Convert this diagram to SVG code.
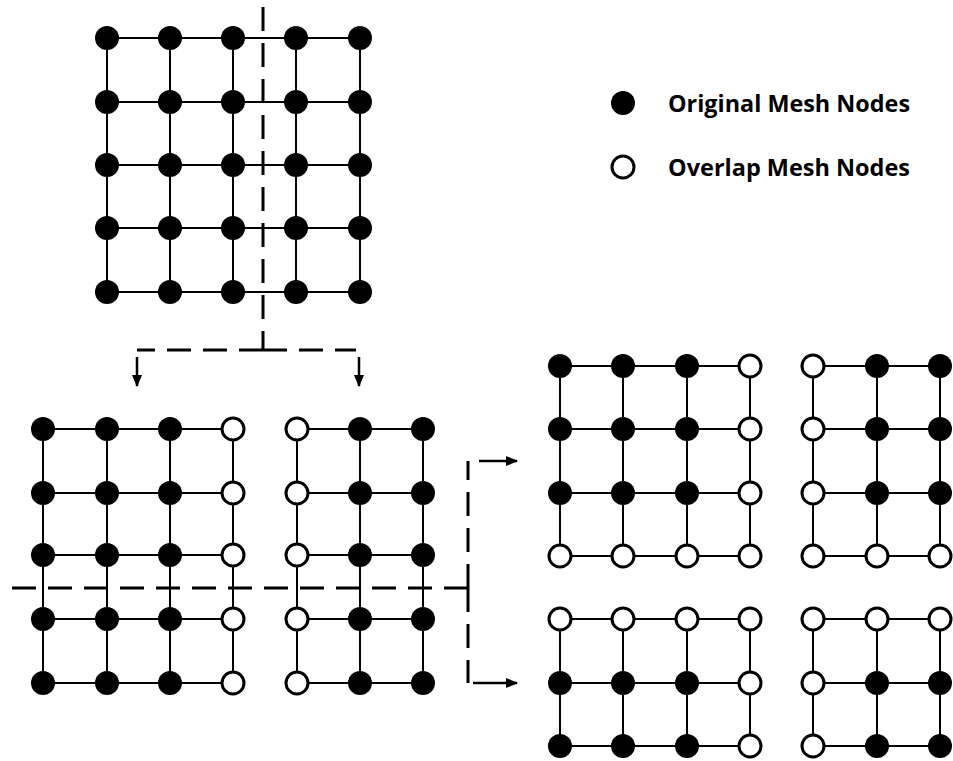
<svg xmlns="http://www.w3.org/2000/svg" width="953" height="761" viewBox="0 0 953 761">
  <defs>
    <style>
      .grid { stroke: #000; stroke-width: 2; fill: none; }
      .orig { fill: #000; stroke: none; }
      .ovl { fill: #fff; stroke: #000; stroke-width: 3; }
      .cut { stroke: #000; stroke-width: 3; fill: none; stroke-dasharray: 24 12; }
      .arrow { stroke: #000; stroke-width: 2.5; fill: none; marker-end: url(#head); }
      .label { font-family: "Open Sans", "Noto Sans", "Liberation Sans", sans-serif; font-weight: bold; font-size: 24px; fill: #000; }
    </style>
    <marker id="head" viewBox="0 0 12 10" refX="11" refY="5" markerWidth="12" markerHeight="10" markerUnits="userSpaceOnUse" orient="auto">
      <path d="M0,0 L12,5 L0,10 Z" fill="#000"/>
    </marker>
    <circle id="f" r="12" class="orig"/>
    <circle id="o" r="11" class="ovl"/>
  </defs>
  <rect width="953" height="761" fill="#fff"/>

  <!-- Full mesh (5 x 5) -->
  <g id="mesh-full">
    <path class="grid" d="M107,38H360M107,102H360M107,165H360M107,228H360M107,292H360M107,38V292M170,38V292M233,38V292M296,38V292M360,38V292"/>
    <g>
      <use href="#f" x="107" y="38"/><use href="#f" x="170" y="38"/><use href="#f" x="233" y="38"/><use href="#f" x="296" y="38"/><use href="#f" x="360" y="38"/>
      <use href="#f" x="107" y="102"/><use href="#f" x="170" y="102"/><use href="#f" x="233" y="102"/><use href="#f" x="296" y="102"/><use href="#f" x="360" y="102"/>
      <use href="#f" x="107" y="165"/><use href="#f" x="170" y="165"/><use href="#f" x="233" y="165"/><use href="#f" x="296" y="165"/><use href="#f" x="360" y="165"/>
      <use href="#f" x="107" y="228"/><use href="#f" x="170" y="228"/><use href="#f" x="233" y="228"/><use href="#f" x="296" y="228"/><use href="#f" x="360" y="228"/>
      <use href="#f" x="107" y="292"/><use href="#f" x="170" y="292"/><use href="#f" x="233" y="292"/><use href="#f" x="296" y="292"/><use href="#f" x="360" y="292"/>
    </g>
  </g>

  <!-- Left half after first split -->
  <g id="mesh-left">
    <path class="grid" d="M43,429H233M43,493H233M43,555H233M43,619H233M43,683H233M43,429V683M107,429V683M170,429V683M233,429V683"/>
    <use href="#f" x="43" y="429"/><use href="#f" x="107" y="429"/><use href="#f" x="170" y="429"/><use href="#o" x="233" y="429"/>
    <use href="#f" x="43" y="493"/><use href="#f" x="107" y="493"/><use href="#f" x="170" y="493"/><use href="#o" x="233" y="493"/>
    <use href="#f" x="43" y="555"/><use href="#f" x="107" y="555"/><use href="#f" x="170" y="555"/><use href="#o" x="233" y="555"/>
    <use href="#f" x="43" y="619"/><use href="#f" x="107" y="619"/><use href="#f" x="170" y="619"/><use href="#o" x="233" y="619"/>
    <use href="#f" x="43" y="683"/><use href="#f" x="107" y="683"/><use href="#f" x="170" y="683"/><use href="#o" x="233" y="683"/>
  </g>

  <!-- Right half after first split -->
  <g id="mesh-right">
    <path class="grid" d="M297,429H423M297,493H423M297,555H423M297,619H423M297,683H423M297,429V683M360,429V683M423,429V683"/>
    <use href="#o" x="297" y="429"/><use href="#f" x="360" y="429"/><use href="#f" x="423" y="429"/>
    <use href="#o" x="297" y="493"/><use href="#f" x="360" y="493"/><use href="#f" x="423" y="493"/>
    <use href="#o" x="297" y="555"/><use href="#f" x="360" y="555"/><use href="#f" x="423" y="555"/>
    <use href="#o" x="297" y="619"/><use href="#f" x="360" y="619"/><use href="#f" x="423" y="619"/>
    <use href="#o" x="297" y="683"/><use href="#f" x="360" y="683"/><use href="#f" x="423" y="683"/>
  </g>

  <!-- Quadrant: top-left -->
  <g id="quad-tl">
    <path class="grid" d="M560,366H750M560,429H750M560,493H750M560,556H750M560,366V556M623,366V556M687,366V556M750,366V556"/>
    <use href="#f" x="560" y="366"/><use href="#f" x="623" y="366"/><use href="#f" x="687" y="366"/><use href="#o" x="750" y="366"/>
    <use href="#f" x="560" y="429"/><use href="#f" x="623" y="429"/><use href="#f" x="687" y="429"/><use href="#o" x="750" y="429"/>
    <use href="#f" x="560" y="493"/><use href="#f" x="623" y="493"/><use href="#f" x="687" y="493"/><use href="#o" x="750" y="493"/>
    <use href="#o" x="560" y="556"/><use href="#o" x="623" y="556"/><use href="#o" x="687" y="556"/><use href="#o" x="750" y="556"/>
  </g>

  <!-- Quadrant: top-right -->
  <g id="quad-tr">
    <path class="grid" d="M813,366H940M813,429H940M813,493H940M813,556H940M813,366V556M877,366V556M940,366V556"/>
    <use href="#o" x="813" y="366"/><use href="#f" x="877" y="366"/><use href="#f" x="940" y="366"/>
    <use href="#o" x="813" y="429"/><use href="#f" x="877" y="429"/><use href="#f" x="940" y="429"/>
    <use href="#o" x="813" y="493"/><use href="#f" x="877" y="493"/><use href="#f" x="940" y="493"/>
    <use href="#o" x="813" y="556"/><use href="#o" x="877" y="556"/><use href="#o" x="940" y="556"/>
  </g>

  <!-- Quadrant: bottom-left -->
  <g id="quad-bl">
    <path class="grid" d="M560,619H750M560,683H750M560,746H750M560,619V746M623,619V746M687,619V746M750,619V746"/>
    <use href="#o" x="560" y="619"/><use href="#o" x="623" y="619"/><use href="#o" x="687" y="619"/><use href="#o" x="750" y="619"/>
    <use href="#f" x="560" y="683"/><use href="#f" x="623" y="683"/><use href="#f" x="687" y="683"/><use href="#o" x="750" y="683"/>
    <use href="#f" x="560" y="746"/><use href="#f" x="623" y="746"/><use href="#f" x="687" y="746"/><use href="#o" x="750" y="746"/>
  </g>

  <!-- Quadrant: bottom-right -->
  <g id="quad-br">
    <path class="grid" d="M813,619H940M813,683H940M813,746H940M813,619V746M877,619V746M940,619V746"/>
    <use href="#o" x="813" y="619"/><use href="#o" x="877" y="619"/><use href="#o" x="940" y="619"/>
    <use href="#o" x="813" y="683"/><use href="#f" x="877" y="683"/><use href="#f" x="940" y="683"/>
    <use href="#o" x="813" y="746"/><use href="#f" x="877" y="746"/><use href="#f" x="940" y="746"/>
  </g>

  <!-- Cut lines and split arrows -->
  <g id="connectors">
    <path class="cut" d="M263,7V350"/>
    <path class="cut" d="M263,350H137"/>
    <path class="cut" d="M263,350H356"/>
    <path class="arrow" d="M137,357V386"/>
    <path class="arrow" d="M359,357V386"/>
    <path class="cut" d="M12,588H468"/>
    <path class="cut" d="M468,588V461"/>
    <path class="cut" d="M468,588V683"/>
    <path class="arrow" d="M479,461H517"/>
    <path class="arrow" d="M473,683H517"/>
  </g>

  <!-- Legend -->
  <g id="legend">
    <use href="#f" x="623" y="103"/>
    <text class="label" x="668" y="112" textLength="242" lengthAdjust="spacingAndGlyphs">Original Mesh Nodes</text>
    <use href="#o" x="623" y="167"/>
    <text class="label" x="668" y="176" textLength="242" lengthAdjust="spacingAndGlyphs">Overlap Mesh Nodes</text>
  </g>
</svg>
